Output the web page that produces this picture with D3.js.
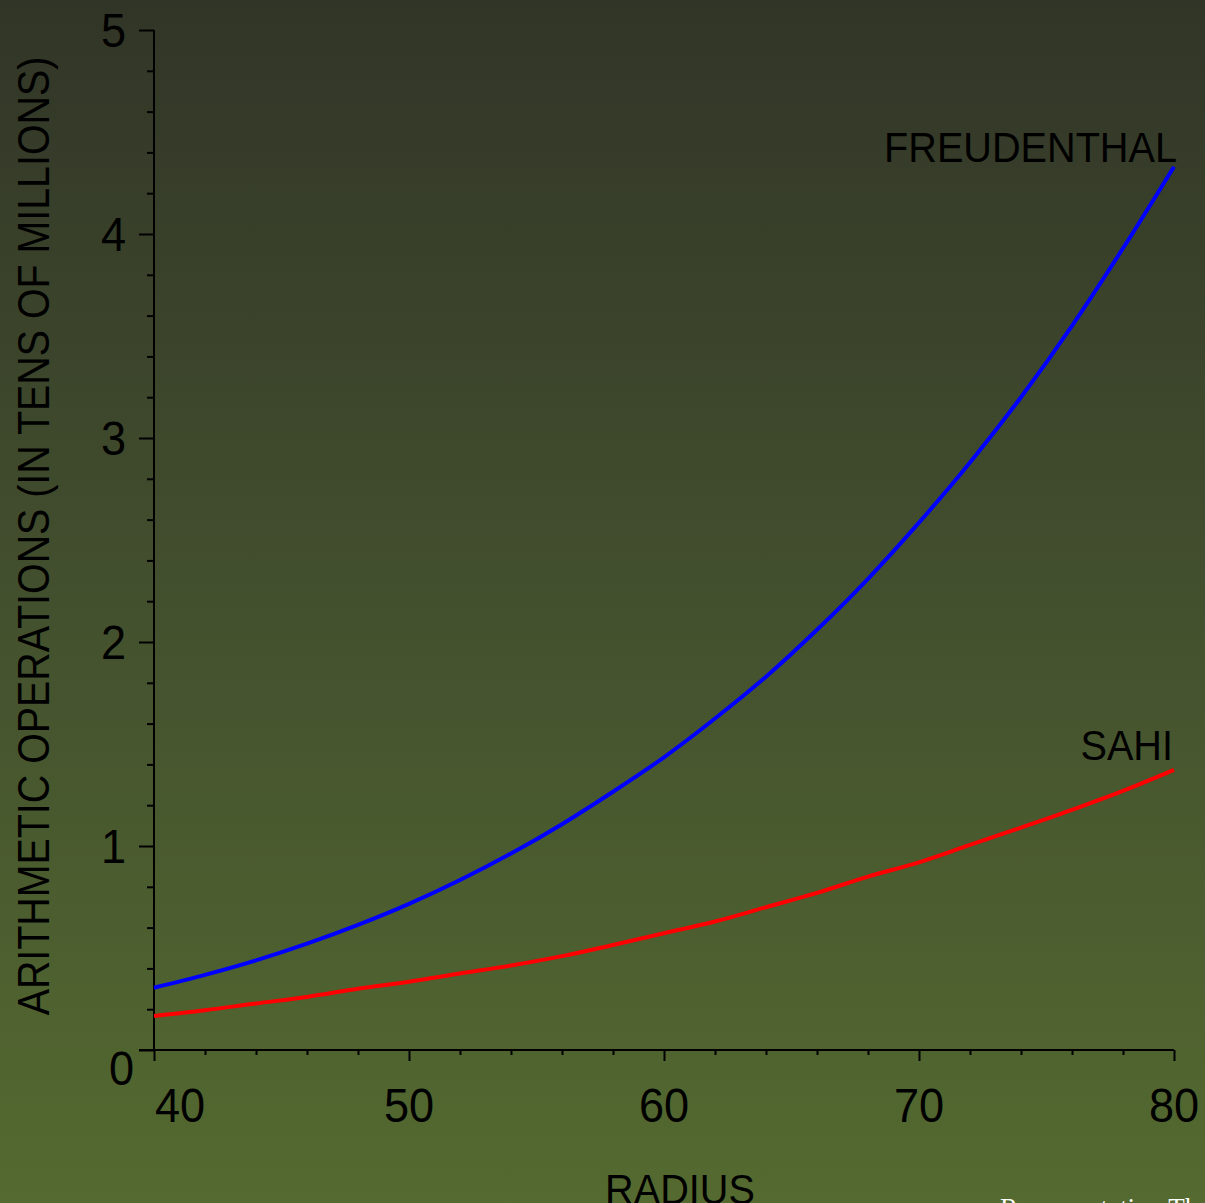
<!DOCTYPE html>
<html>
<head>
<meta charset="utf-8">
<script src="https://cdn.jsdelivr.net/npm/d3@7/dist/d3.min.js"></script>
<style>
  html, body { margin: 0; padding: 0; background: #323628; }
  svg { display: block; }
</style>
</head>
<body>
<script>
// ---- data ----
const radius = [40, 42, 44, 46, 48, 50, 52, 54, 56, 58, 60, 62, 64, 66, 68, 70, 72, 74, 76, 78, 80];
const freudenthal = [0.305, 0.368, 0.439, 0.521, 0.613, 0.716, 0.833, 0.963, 1.107, 1.266, 1.435, 1.625, 1.83, 2.06, 2.31, 2.585, 2.88, 3.2, 3.55, 3.93, 4.33];
const sahi = [0.167, 0.195, 0.228, 0.26, 0.30, 0.335, 0.375, 0.414, 0.46, 0.515, 0.572, 0.63, 0.70, 0.77, 0.85, 0.92, 1.005, 1.09, 1.177, 1.27, 1.373];
const xMajorTicks = [40, 50, 60, 70, 80];
const xMinorTicks = [42, 44, 46, 48, 52, 54, 56, 58, 62, 64, 66, 68, 72, 74, 76, 78];
const yMajorTicks = [0, 1, 2, 3, 4, 5];
const yMinorTicks = [0.2,0.4,0.6,0.8,1.2,1.4,1.6,1.8,2.2,2.4,2.6,2.8,3.2,3.4,3.6,3.8,4.2,4.4,4.6,4.8];
const xTitle = "RADIUS";
const yTitle = "ARITHMETIC OPERATIONS (IN TENS OF MILLIONS)";
const seriesNames = ["FREUDENTHAL", "SAHI"];
const footer = "Representation Th";

const W = 1205, H = 1203;
const svg = d3.select("body").append("svg").attr("width", W).attr("height", H);

// background gradient
const defs = svg.append("defs");
const grad = defs.append("linearGradient").attr("id", "bg").attr("x1", 0).attr("y1", 0).attr("x2", 0).attr("y2", 1);
grad.append("stop").attr("offset", "0%").attr("stop-color", "#313527");
grad.append("stop").attr("offset", "50%").attr("stop-color", "#43502e");
grad.append("stop").attr("offset", "100%").attr("stop-color", "#546a30");
svg.append("rect").attr("width", W).attr("height", H).attr("fill", "url(#bg)");

const x = d3.scaleLinear().domain([40, 80]).range([154, 1174]);
const y = d3.scaleLinear().domain([0, 5]).range([1050, 30]);

const font = "'Liberation Sans', Arial, Helvetica, sans-serif";

// axes
function styleAxis(g) {
  g.select(".domain").remove();
  g.selectAll(".tick line").attr("stroke", "#000").attr("stroke-width", 2);
}
svg.append("g").attr("transform", `translate(${x(40)},0)`)
  .call(d3.axisLeft(y).tickValues(yMinorTicks).tickSize(7).tickFormat(""))
  .call(styleAxis);
svg.append("g").attr("transform", `translate(${x(40)},0)`)
  .call(d3.axisLeft(y).tickValues(yMajorTicks).tickSize(15).tickFormat(""))
  .call(styleAxis);
svg.append("g").attr("transform", `translate(0,${y(0)})`)
  .call(d3.axisBottom(x).tickValues(xMinorTicks).tickSize(5).tickFormat(""))
  .call(styleAxis);
svg.append("g").attr("transform", `translate(0,${y(0)})`)
  .call(d3.axisBottom(x).tickValues(xMajorTicks).tickSize(11).tickFormat(""))
  .call(styleAxis);
// axis lines
svg.append("line").attr("x1", x(40)).attr("x2", x(40)).attr("y1", y(5)).attr("y2", y(0))
  .attr("stroke", "#000").attr("stroke-width", 2);
svg.append("line").attr("x1", x(40) - 15).attr("x2", x(80)).attr("y1", y(0)).attr("y2", y(0))
  .attr("stroke", "#000").attr("stroke-width", 2);

function label(txt, tx, ty, size, anchor, sx, rot, fill, fam) {
  const g = svg.append("g").attr("transform", `translate(${tx},${ty}) rotate(${rot || 0}) scale(${sx},1)`);
  g.append("text").attr("x", 0).attr("y", 0)
    .attr("text-anchor", anchor)
    .attr("font-family", fam || font)
    .attr("font-size", size)
    .attr("fill", fill || "#000")
    .text(txt);
  return g;
}

// y tick labels
yMajorTicks.forEach(v => {
  if (v === 0) label("0", 134, y(0) + 35, 48, "end", 0.94);
  else label(String(v), 126, y(v) + 17, 48, "end", 0.94);
});
// x tick labels
xMajorTicks.forEach((v, i) => {
  if (i === 0) label(String(v), x(v) + 1, 1122, 48, "start", 0.94);
  else label(String(v), x(v), 1122, 48, "middle", 0.94);
});

// titles
label(xTitle, 680, 1204, 42.5, "middle", 0.933);
label(yTitle, 49, 536, 44.5, "middle", 0.885, -90);

// lines
const line = d3.line().x((d, i) => x(radius[i])).y(d => y(d)).curve(d3.curveMonotoneX);
svg.append("path").datum(sahi).attr("d", line)
  .attr("fill", "none").attr("stroke", "#ff0000").attr("stroke-width", 4);
svg.append("path").datum(freudenthal).attr("d", line)
  .attr("fill", "none").attr("stroke", "#0000ff").attr("stroke-width", 4);

// series labels
label(seriesNames[0], 1177, 162, 42.5, "end", 0.933);
label(seriesNames[1], 1173, 760, 42.5, "end", 0.933);

// footer (cut off at the bottom edge, as in the reference)
label(footer, 1000, 1217, 27, "start", 1, 0, "#ffffff", "'Liberation Serif', 'Times New Roman', serif");
</script>
</body>
</html>
